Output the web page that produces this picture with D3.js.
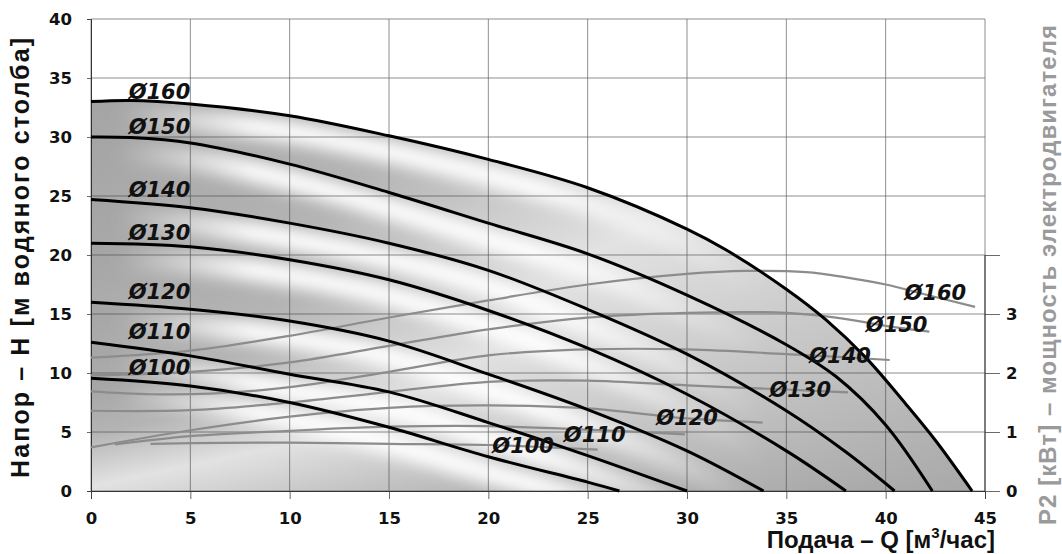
<!DOCTYPE html>
<html>
<head>
<meta charset="utf-8">
<script src="https://cdn.jsdelivr.net/npm/d3@7"></script>
<style>
  body { margin: 0; background: #fff; }
  svg text { font-family: "Liberation Sans", Arial, sans-serif; }
</style>
</head>
<body>
<svg id="chart" width="1062" height="554"></svg>
<script>
// axis ticks
const flowTicks = [0, 5, 10, 15, 20, 25, 30, 35, 40, 45];
const headTicks = [0, 5, 10, 15, 20, 25, 30, 35, 40];
const powerTicks = [0, 1, 2, 3, 4];

// impeller diameters, top curve first
const diameters = [160, 150, 140, 130, 120, 110, 100];

// H-Q curves: [Q m3/h, H m]
const head160 = [[0,33.0],[2,33.1],[5,32.8],[10,31.8],[15,30.1],[20,28.1],[25,25.7],[30,22.2],[32,20.4],[35,17.1],[37,14.5],[39,11.3],[41,7.4],[42.5,4.3],[44.35,0]];
const head150 = [[0,30.0],[2,29.95],[5,29.5],[10,27.7],[15,25.3],[20,22.7],[25,20.1],[30,16.6],[35,12.4],[37.5,9.7],[40,5.6],[42.35,0]];
const head140 = [[0,24.7],[5,24.0],[10,22.7],[15,21.0],[20,18.7],[25,15.4],[30,11.6],[35,6.8],[38,3.3],[40.45,0]];
const head130 = [[0,21.0],[5,20.7],[10,19.6],[15,17.9],[20,15.3],[25,12.1],[30,8.2],[35,3.4],[38.0,0]];
const head120 = [[0,16.0],[5,15.4],[10,14.4],[15,12.7],[20,9.9],[25,6.9],[30,3.4],[33.85,0]];
const head110 = [[0,12.6],[5,11.45],[10,9.9],[15,8.4],[20,5.8],[25,3.0],[30.0,0]];
const head100 = [[0,9.55],[5,8.9],[10,7.5],[15,5.4],[20,2.9],[25,0.75],[26.6,0]];

// P2 power curves: [Q m3/h, P kW]
const power160 = [[0,2.26],[5,2.38],[10,2.63],[15,2.94],[20,3.23],[25,3.5],[30,3.68],[33,3.73],[36,3.71],[38,3.62],[40,3.5],[42,3.33],[44.5,3.12]];
const power150 = [[0,1.96],[5,2.02],[10,2.18],[15,2.46],[20,2.74],[25,2.94],[30,3.02],[35,3.02],[37.5,2.94],[40,2.8],[42.2,2.7]];
const power140 = [[0,1.69],[3,1.64],[6,1.65],[10,1.76],[15,2.02],[20,2.3],[25,2.4],[30,2.4],[35,2.32],[40.2,2.22]];
const power130 = [[0,1.36],[5,1.37],[10,1.5],[15,1.68],[20,1.85],[25,1.87],[30,1.79],[35,1.72],[38.1,1.67]];
const power120 = [[0,0.74],[5,1.03],[10,1.26],[15,1.41],[20,1.45],[25,1.4],[30,1.23],[33.8,1.16]];
const power110 = [[1.2,0.79],[5,0.93],[10,1.02],[15,1.09],[20,1.1],[25,1.04],[29.9,0.96]];
const power100 = [[3,0.8],[5,0.81],[10,0.82],[15,0.8],[20,0.78],[23,0.74],[25.5,0.7]];

// where the power curve labels sit: [Q, P]
const powerLabelAt = [[40.95,3.24],[39.0,2.7],[36.15,2.17],[34.15,1.59],[28.45,1.12],[23.8,0.83],[20.2,0.64]];

const heads = [head160, head150, head140, head130, head120, head110, head100];
const powers = [power160, power150, power140, power130, power120, power110, power100];

const svg = d3.select("#chart");

const x = d3.scaleLinear().domain([0, 45]).range([91, 985]);
const y = d3.scaleLinear().domain([0, 40]).range([491, 19]);
const yP = d3.scaleLinear().domain([0, 8]).range([491, 19]);

const lineH = d3.line().x(d => x(d[0])).y(d => y(d[1])).curve(d3.curveCatmullRom.alpha(0.5));
const lineP = d3.line().x(d => x(d[0])).y(d => yP(d[1])).curve(d3.curveCatmullRom.alpha(0.5));

// shaded bands between neighbouring curves
const defs = svg.append("defs");
const stops = [[0,"#a4a4a4"],[0.25,"#b4b4b4"],[0.48,"#e2e2e2"],[0.72,"#c6c6c6"],[1,"#a8a8a8"]];

defs.append("filter").attr("id", "soft")
  .attr("x", "-20%").attr("y", "-20%").attr("width", "140%").attr("height", "140%")
  .append("feGaussianBlur").attr("stdDeviation", 8);

// white sheen under each curve, strongest in the middle of the flow range
const sheen = defs.append("linearGradient").attr("id", "sheen")
  .attr("gradientUnits", "userSpaceOnUse")
  .attr("x1", x(0)).attr("x2", x(45)).attr("y1", 0).attr("y2", 0);
[[0.03,0],[0.18,1],[0.5,1],[0.75,0]].forEach(s =>
  sheen.append("stop").attr("offset", s[0]).attr("stop-color", "#fff").attr("stop-opacity", s[1]));

function bandPath(upper, lower) {
  const up = lineH(upper);
  const end = upper[upper.length - 1][0];
  const low = lower
    ? lineH(lower.slice().reverse())
    : `M${x(end)},${y(0)}L${x(0)},${y(0)}`;
  return up + "L" + low.slice(1) + "Z";
}

heads.forEach((h, i) => {
  const g = defs.append("linearGradient")
    .attr("id", "band" + i)
    .attr("x1", 0).attr("y1", 0).attr("x2", 1).attr("y2", 1);
  stops.forEach(s => g.append("stop").attr("offset", s[0]).attr("stop-color", s[1]));

  const d = bandPath(h, heads[i + 1]);
  defs.append("clipPath").attr("id", "clip" + i).append("path").attr("d", d);

  svg.append("path").attr("d", d).attr("fill", `url(#band${i})`);

  svg.append("g").attr("clip-path", `url(#clip${i})`)
    .append("path")
    .attr("d", lineH(h))
    .attr("transform", "translate(0,16)")
    .attr("fill", "none")
    .attr("stroke", "url(#sheen)")
    .attr("stroke-width", 22)
    .attr("filter", "url(#soft)");
});

// grid
const grid = svg.append("g").attr("stroke", "#444").attr("stroke-width", 0.7).attr("opacity", 0.85);
grid.selectAll(".v").data(flowTicks).join("line")
  .attr("x1", d => x(d)).attr("x2", d => x(d))
  .attr("y1", y(0)).attr("y2", y(40));
grid.selectAll(".h").data(headTicks).join("line")
  .attr("x1", x(0)).attr("x2", x(45))
  .attr("y1", d => y(d)).attr("y2", d => y(d));

// axes
const bottom = svg.append("g").attr("transform", `translate(0,${y(0)})`);
bottom.call(d3.axisBottom(x).tickValues(d3.range(0, 46)).tickSize(5).tickFormat(""));
bottom.call(d3.axisBottom(x).tickValues(flowTicks).tickSize(8).tickPadding(13));

const left = svg.append("g").attr("transform", `translate(${x(0)},0)`);
left.call(d3.axisLeft(y).tickValues(d3.range(0, 41)).tickSize(4).tickFormat(""));
left.call(d3.axisLeft(y).tickValues(headTicks).tickSize(4).tickPadding(15));

const right = svg.append("g").attr("transform", `translate(${x(45)},0)`);
right.call(d3.axisRight(yP).tickValues(powerTicks).tickSize(15).tickPadding(6)
  .tickFormat(d => d < 4 ? d : ""));
right.select(".domain").attr("d", `M0,${yP(0)}V${yP(4)}`);

svg.selectAll(".tick text")
  .style("font-family", "'DejaVu Sans', sans-serif")
  .style("font-size", "16.5px")
  .style("font-weight", "bold")
  .attr("fill", "#111");
svg.selectAll(".tick line").attr("stroke", "#444").attr("stroke-width", 0.8);
svg.selectAll(".domain").attr("stroke", "#333").attr("stroke-width", 1);

// power curves
svg.append("g").selectAll("path").data(powers).join("path")
  .attr("d", lineP)
  .attr("fill", "none")
  .attr("stroke", "#8c8c8c")
  .attr("stroke-width", 2.2);

// head curves
svg.append("g").selectAll("path").data(heads).join("path")
  .attr("d", lineH)
  .attr("fill", "none")
  .attr("stroke", "#000")
  .attr("stroke-width", 3);

// curve labels
const labelFont = "'DejaVu Sans', sans-serif";
svg.append("g").selectAll("text").data(diameters).join("text")
  .attr("x", x(5))
  .attr("y", (d, i) => y(heads[i][0][1]) - 3)
  .attr("text-anchor", "end")
  .style("font-family", labelFont)
  .attr("font-size", 21).attr("font-weight", "bold").attr("font-style", "italic")
  .attr("fill", "#111")
  .text(d => "Ø" + d);

svg.append("g").selectAll("text").data(diameters).join("text")
  .attr("x", (d, i) => x(powerLabelAt[i][0]))
  .attr("y", (d, i) => yP(powerLabelAt[i][1]))
  .style("font-family", labelFont)
  .attr("font-size", 21).attr("font-weight", "bold").attr("font-style", "italic")
  .attr("fill", "#111")
  .text(d => "Ø" + d);

// axis titles
svg.append("text")
  .attr("transform", "translate(29,258) rotate(-90)")
  .attr("text-anchor", "middle")
  .attr("font-size", 25).attr("font-weight", "bold").attr("fill", "#111")
  .attr("textLength", 440).attr("lengthAdjust", "spacing")
  .text("Напор – H [м водяного столба]");

svg.append("text")
  .attr("transform", "translate(1056,275) rotate(-90)")
  .attr("text-anchor", "middle")
  .attr("font-size", 24).attr("font-weight", "bold").attr("fill", "#9a9a9a")
  .attr("textLength", 500).attr("lengthAdjust", "spacing")
  .text("P2 [кВт] – мощность электродвигателя");

const xt = svg.append("text")
  .attr("x", 995).attr("y", 548)
  .attr("text-anchor", "end")
  .attr("font-size", 24).attr("font-weight", "bold").attr("fill", "#111");
xt.append("tspan").text("Подача – Q [м");
xt.append("tspan").attr("font-size", 15).attr("dy", -10).text("3");
xt.append("tspan").attr("dy", 10).text("/час]");
</script>
</body>
</html>
